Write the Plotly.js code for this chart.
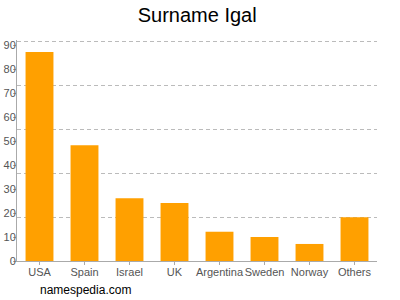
<!DOCTYPE html>
<html><head><meta charset="utf-8">
<script src="https://cdn.plot.ly/plotly-3.0.1.min.js"></script>
<style>html,body{margin:0;padding:0;background:#fff}#chart{width:400px;height:300px}</style>
</head><body><div id="chart"></div>
<script>
const countries = ["USA","Spain","Israel","UK","Argentina","Sweden","Norway","Others"];
const values = [87.1, 48.2, 26.1, 24.2, 12.2, 10.0, 7.1, 18.2];
const yTickVals = [0,10,20,30,40,50,60,70,80,90];
const yMax = 92.1;

const data = [{
  type: "bar", x: countries, y: values,
  marker: {color: "#FFA000"}, hoverinfo: "x+y"
}, {
  type: "scatter", x: countries, y: values, yaxis: "y2",
  mode: "none", hoverinfo: "skip", showlegend: false
}];

const layout = {
  width: 400, height: 300,
  margin: {l: 17, r: 23, t: 40, b: 39},
  paper_bgcolor: "#fff", plot_bgcolor: "#fff",
  showlegend: false,
  bargap: 0.38,
  font: {family: "Liberation Sans, Arial, sans-serif", color: "#555"},
  title: {text: "Surname Igal", x: 0.493, xanchor: "center", y: 0.95, yanchor: "middle",
          font: {size: 20, color: "#000"}},
  xaxis: {
    showline: true, linecolor: "#aaa", linewidth: 1, tickangle: 0, automargin: false,
    ticks: "outside", ticklen: 3, tickcolor: "#aaa", ticklabelstandoff: -2,
    tickfont: {size: 11, color: "#555"}, showgrid: false
  },
  yaxis: {
    range: [0, yMax], tickvals: yTickVals, ticks: "outside", ticklen: 3, tickcolor: "#aaa",
    showline: true, linecolor: "#aaa", linewidth: 1, automargin: false, ticklabelstandoff: -5,
    showgrid: false, zeroline: false,
    tickfont: {size: 11, color: "#555"}
  },
  yaxis2: {
    overlaying: "y", range: [0, yMax], tick0: 0, dtick: yMax / 5 * 0.995,
    showticklabels: false, ticks: "", showgrid: true,
    gridcolor: "#bbb", griddash: "4px,3px", gridwidth: 1, zeroline: false, showline: false
  },
  annotations: [{
    text: "namespedia.com", xref: "paper", yref: "paper", x: 0.058, y: -0.13,
    xanchor: "left", yanchor: "middle", showarrow: false,
    font: {size: 12, color: "#000"}
  }]
};
Plotly.newPlot("chart", data, layout, {displayModeBar: false, staticPlot: true});
</script></body></html>
